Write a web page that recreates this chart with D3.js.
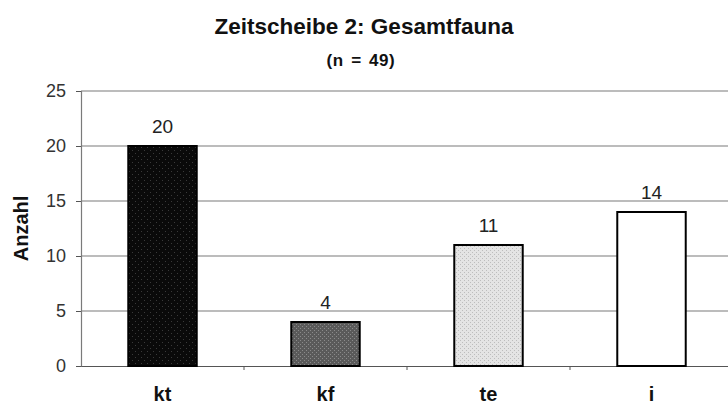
<!DOCTYPE html>
<html><head><meta charset="utf-8">
<script src="https://cdn.jsdelivr.net/npm/d3@7"></script>
<style>html,body{margin:0;padding:0;background:#fff;} svg{display:block;}</style>
</head><body>
<svg id="chart" width="728" height="405"></svg>
<script>
const categories = ["kt", "kf", "te", "i"];
const values = [20, 4, 11, 14];
const yTicks = [0, 5, 10, 15, 20, 25];
const title = "Zeitscheibe 2: Gesamtfauna";
const subtitle = "(n = 49)";
const yLabel = "Anzahl";

(function () {
const svg = d3.select("#chart");
const mLeft = 81, mRight = 733, mTop = 91, mBottom = 366;
const FONT = "Liberation Sans, Arial, sans-serif";

const defs = svg.append("defs");
function dotPattern(id, bg, dot, size, r) {
  const p = defs.append("pattern").attr("id", id).attr("patternUnits", "userSpaceOnUse")
    .attr("width", size).attr("height", size);
  p.append("rect").attr("width", size).attr("height", size).attr("fill", bg);
  p.append("rect").attr("x", 0).attr("y", 0).attr("width", r).attr("height", r).attr("fill", dot);
  p.append("rect").attr("x", size/2).attr("y", size/2).attr("width", r).attr("height", r).attr("fill", dot);
}
dotPattern("pkt", "#0a0a0a", "#3a3a3a", 6, 1);
dotPattern("pkf", "#5a5a5a", "#8a8a8a", 4, 1);
dotPattern("pte", "#e4e4e4", "#bdbdbd", 4, 1);
const fills = ["url(#pkt)", "url(#pkf)", "url(#pte)", "#ffffff"];

const x = d3.scaleBand().domain(categories).range([mLeft, mRight]).paddingInner(0.58).paddingOuter(0.29);
const y = d3.scaleLinear().domain([0, 25]).range([mBottom, mTop]);

// gridlines
svg.append("g").selectAll("line").data(yTicks.filter(d => d > 0)).join("line")
  .attr("x1", mLeft).attr("x2", mRight)
  .attr("y1", d => y(d)).attr("y2", d => y(d))
  .attr("stroke", "#7a7a7a").attr("stroke-width", 1.2);

// y axis
const yAxis = d3.axisLeft(y).tickValues(yTicks).tickSize(5).tickPadding(10);
const gy = svg.append("g").attr("transform", `translate(${mLeft},0)`).call(yAxis);
gy.select(".domain").attr("stroke", "#7a7a7a").attr("stroke-width", 1.2);
gy.selectAll(".tick line").attr("stroke", "#555");
gy.selectAll("text").attr("font-family", FONT)
  .attr("font-size", 18).attr("fill", "#333");

// x axis
const xAxis = d3.axisBottom(x).tickSize(0).tickPadding(21);
const gx = svg.append("g").attr("transform", `translate(0,${mBottom})`).call(xAxis);
gx.select(".domain").attr("stroke", "#555").attr("stroke-width", 1.2);
gx.selectAll("text").attr("font-family", FONT)
  .attr("font-size", 20).attr("font-weight", "bold").attr("fill", "#111");
// category separator ticks
svg.append("g").selectAll("line").data(categories.slice(1)).join("line")
  .attr("x1", c => x(c) - (x.step() - x.bandwidth()) / 2)
  .attr("x2", c => x(c) - (x.step() - x.bandwidth()) / 2)
  .attr("y1", mBottom).attr("y2", mBottom + 4)
  .attr("stroke", "#555");

// bars
svg.append("g").selectAll("rect").data(categories).join("rect")
  .attr("x", c => x(c)).attr("width", x.bandwidth())
  .attr("y", (c, i) => y(values[i])).attr("height", (c, i) => y(0) - y(values[i]))
  .attr("fill", (c, i) => fills[i])
  .attr("stroke", "#000").attr("stroke-width", 2);

// value labels
svg.append("g").selectAll("text").data(categories).join("text")
  .attr("x", c => x(c) + x.bandwidth() / 2)
  .attr("y", (c, i) => y(values[i]) - 13)
  .attr("text-anchor", "middle")
  .attr("font-family", FONT).attr("font-size", 19).attr("fill", "#222")
  .text((c, i) => values[i]);

// titles
svg.append("text").attr("x", 364).attr("y", 34).attr("text-anchor", "middle")
  .attr("font-family", FONT).attr("font-size", 22.5).attr("font-weight", "bold")
  .attr("fill", "#111").text(title);
svg.append("text").attr("x", 361).attr("y", 66).attr("text-anchor", "middle")
  .attr("font-family", FONT).attr("font-size", 17).attr("font-weight", "bold")
  .attr("letter-spacing", 0.6).attr("word-spacing", 2)
  .attr("fill", "#111").text(subtitle);
svg.append("text").attr("transform", `translate(28,${(mTop + mBottom) / 2}) rotate(-90)`)
  .attr("text-anchor", "middle")
  .attr("font-family", FONT).attr("font-size", 20).attr("font-weight", "bold")
  .attr("fill", "#111").text(yLabel);
})();
</script>
</body></html>
